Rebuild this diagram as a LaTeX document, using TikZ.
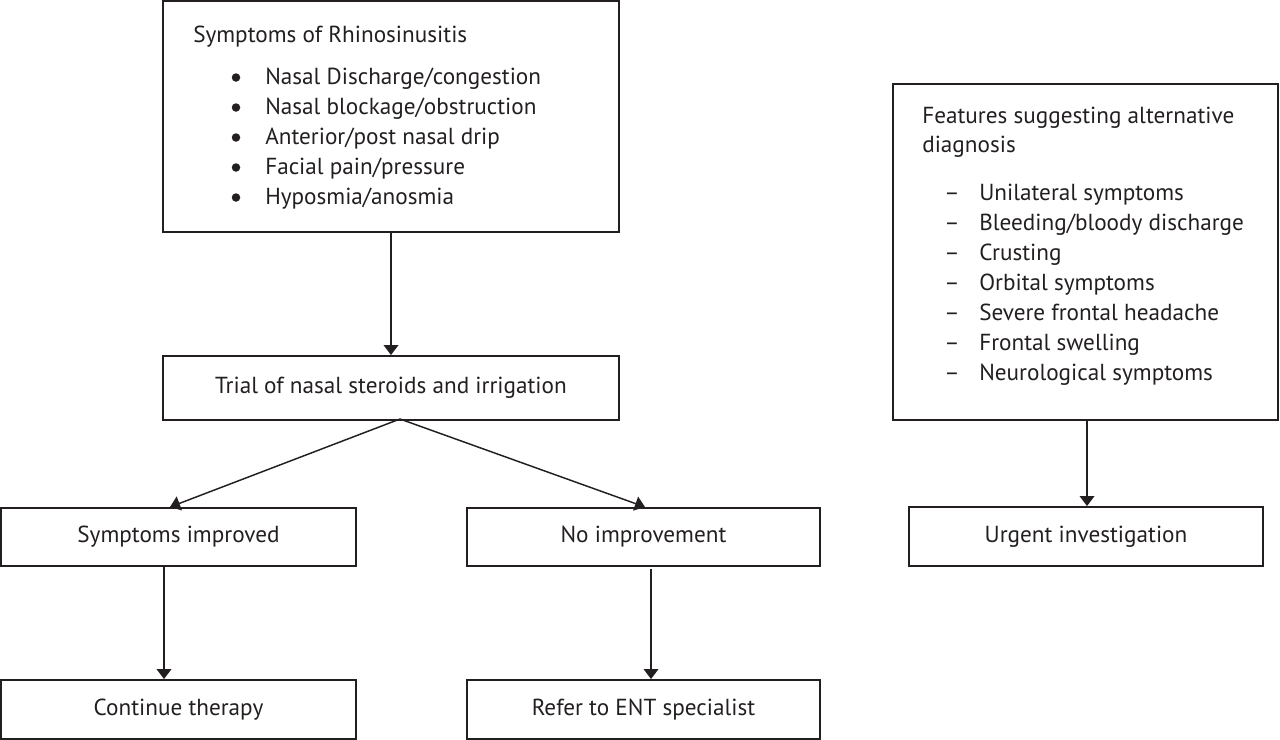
\documentclass[tikz,border=0pt]{standalone}
\usepackage{fontspec}
\setmainfont{PT Sans}
\usetikzlibrary{arrows.meta,calc}
\definecolor{ink}{HTML}{231F20}
\tikzset{
  box/.style={draw=ink, line width=1.4pt, inner sep=0pt, font=\fontsize{17.4}{21}\selectfont, text=ink},
  txt/.style={anchor=base west, inner sep=0pt, font=\fontsize{17.4}{21}\selectfont, text=ink},
  dot/.style={circle, fill=ink, inner sep=0pt, minimum size={8.5*0.75pt}},
  arr/.style={draw=ink, line width=1.1pt, -{Triangle[length=7.5pt,width=11pt]}}
}
\begin{document}
\begin{tikzpicture}[x=0.75pt,y=-0.75pt]
\useasboundingbox (0,0) rectangle (1280,739);
% boxes
\node[box, minimum width={456*0.75pt}, minimum height={231*0.75pt}] (symp) at (391,116.5) {};
\node[box, minimum width={456*0.75pt}, minimum height={64*0.75pt}] (trial) at (391,388) {Trial of nasal steroids and irrigation};
\node[box, minimum width={355*0.75pt}, minimum height={58*0.75pt}] (impr) at (178.5,537) {Symptoms improved};
\node[box, minimum width={353*0.75pt}, minimum height={58*0.75pt}] (noimp) at (643.5,537) {No improvement};
\node[box, minimum width={355*0.75pt}, minimum height={59*0.75pt}] (cont) at (178.5,709.5) {Continue therapy};
\node[box, minimum width={353*0.75pt}, minimum height={59*0.75pt}] (ent) at (643.5,709.5) {Refer to ENT specialist};
\node[box, minimum width={385*0.75pt}, minimum height={336*0.75pt}] (feat) at (1085.5,252) {};
\node[box, minimum width={354*0.75pt}, minimum height={59*0.75pt}] (urg) at (1086,536.5) {Urgent investigation};
% symptoms text
\node[txt] (st) at (193,42) {Symptoms of Rhinosinusitis};
\foreach \y/\t [count=\i] in {84/{Nasal Discharge/congestion}, 114/{Nasal blockage/obstruction}, 144/{Anterior/post nasal drip}, 174/{Facial pain/pressure}, 204/{Hyposmia/anosmia}}{
  \node[dot] (sb\i) at (236,\y-6.5) {};
  \node[txt] (si\i) at (265,\y) {\t};
}
% features text
\node[txt] (ft1) at (922,123) {Features suggesting alternative};
\node[txt] (ft2) at (922,152) {diagnosis};
\foreach \y/\t [count=\i] in {200/{Unilateral symptoms}, 230/{Bleeding/bloody discharge}, 260/{Crusting}, 290/{Orbital symptoms}, 320/{Severe frontal headache}, 350/{Frontal swelling}, 380/{Neurological symptoms}}{
  \node[txt] (fd\i) at (944,\y) {–};
  \node[txt] (fi\i) at (979,\y) {\t};
}
% connector helper coordinates
\coordinate (tb) at (400,419);
\coordinate (ta) at (170,507);
\coordinate (tn) at (645,507);
\coordinate (c1) at (164,0);
\coordinate (c2) at (651,569);
\coordinate (c3) at (1087,0);
% connectors
\draw[arr] (symp.south) -- (trial.north);
\draw[arr] (tb) -- (ta);
\draw[arr] (tb) -- (tn);
\draw[arr] (impr.south -| c1) -- (cont.north -| c1);
\draw[arr] (c2) -- (ent.north -| c2);
\draw[arr] (feat.south -| c3) -- (urg.north -| c3);
\end{tikzpicture}
\end{document}
